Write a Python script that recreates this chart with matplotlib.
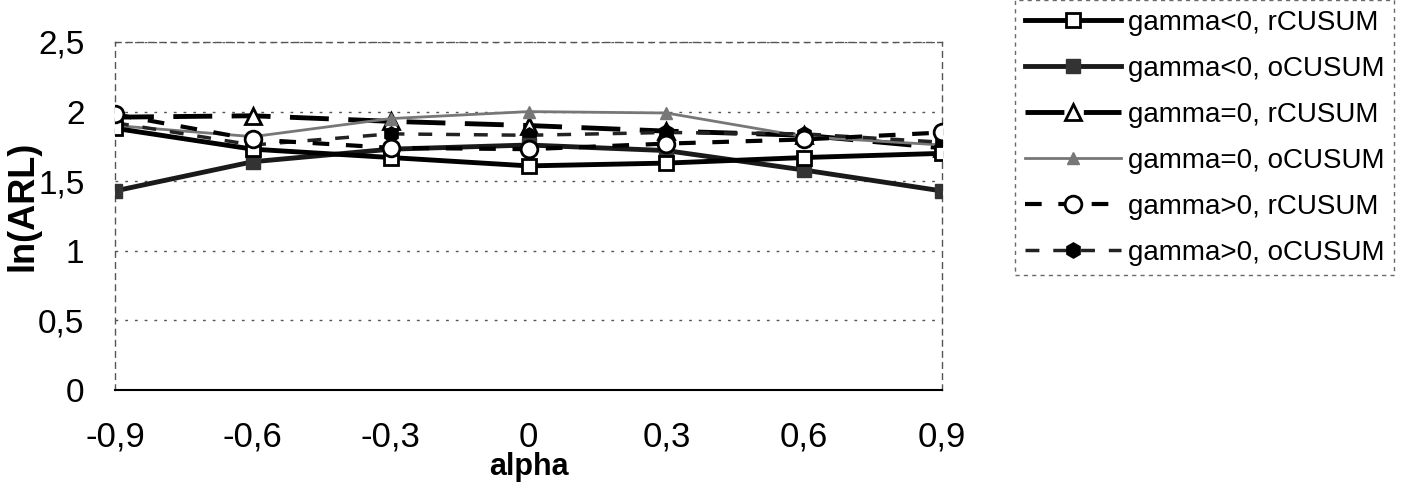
import numpy as np
import matplotlib
matplotlib.use("Agg")
import matplotlib.pyplot as plt

# alpha values on the category axis
alpha = [-0.9, -0.6, -0.3, 0.0, 0.3, 0.6, 0.9]
alpha_labels = ["-0,9", "-0,6", "-0,3", "0", "0,3", "0,6", "0,9"]

# ln(ARL)
neg_rcusum = [1.88, 1.73, 1.67, 1.61, 1.63, 1.67, 1.70]
neg_ocusum = [1.43, 1.64, 1.73, 1.76, 1.72, 1.58, 1.43]
zero_rcusum = [1.96, 1.97, 1.93, 1.90, 1.86, 1.83, 1.74]
zero_ocusum = [1.90, 1.82, 1.95, 2.00, 1.99, 1.82, 1.76]
pos_rcusum = [1.98, 1.80, 1.74, 1.73, 1.77, 1.80, 1.85]
pos_ocusum = [1.92, 1.76, 1.84, 1.83, 1.85, 1.84, 1.78]

y_ticks = [0, 0.5, 1, 1.5, 2, 2.5]
y_labels = ["0", "0,5", "1", "1,5", "2", "2,5"]

plt.rcParams["font.family"] = ["Liberation Sans", "DejaVu Sans"]

fig = plt.figure(figsize=(14.08, 4.82), dpi=100)
ax = fig.add_axes([115 / 1408, 1 - 390 / 482, (942 - 115) / 1408, (390 - 42) / 482])

ax.plot(alpha, neg_rcusum, color="black", lw=3.5, marker="s", ms=10,
        mfc="white", mec="black", mew=2, label="gamma<0, rCUSUM", zorder=5)
ax.plot(alpha, neg_ocusum, color="#1a1a1a", lw=3.5, marker="s", ms=10,
        mfc="#333333", mec="#333333", label="gamma<0, oCUSUM", zorder=4)
ax.plot(alpha, zero_rcusum, color="black", lw=3.5, dashes=(8, 4), marker="^",
        ms=12, mfc="white", mec="black", mew=2, label="gamma=0, rCUSUM", zorder=3)
ax.plot(alpha, zero_ocusum, color="#777777", lw=2, marker="^", ms=9,
        mfc="#777777", mec="#777777", label="gamma=0, oCUSUM", zorder=3)
ax.plot(alpha, pos_rcusum, color="black", lw=3, dashes=(4, 4), marker="o",
        ms=12, mfc="white", mec="black", mew=2, label="gamma>0, rCUSUM", zorder=6)
ax.plot(alpha, pos_ocusum, color="#222222", lw=2.5, dashes=(4, 4), marker="h",
        ms=11, mfc="black", mec="black", label="gamma>0, oCUSUM", zorder=3)

ax.set_xlim(-0.9, 0.9)
ax.set_ylim(0, 2.5)
ax.set_xticks(alpha)
ax.set_xticklabels(alpha_labels, fontsize=25)
ax.set_yticks(y_ticks)
ax.set_yticklabels(y_labels, fontsize=24)
ax.tick_params(axis="x", length=0, pad=22)
ax.tick_params(axis="y", length=0, pad=22)

ax.grid(axis="y", color="#555555", linestyle=(0, (2, 5)), lw=1)
ax.set_axisbelow(True)
for side in ["left", "right", "top"]:
    ax.spines[side].set_linestyle((0, (4, 4)))
    ax.spines[side].set_color("#555555")
    ax.spines[side].set_linewidth(1)
ax.spines["bottom"].set_color("black")
ax.spines["bottom"].set_linewidth(1.5)

ax.set_xlabel("alpha", fontsize=22, fontweight="bold", labelpad=-1)
ax.set_ylabel("ln(ARL)", fontsize=26, fontweight="bold")
ax.yaxis.set_label_coords((41 - 115) / 827, 0.53)

leg = ax.legend(loc="upper left", bbox_to_anchor=(1015 / 1408, 1.0),
                bbox_transform=fig.transFigure, fontsize=20, frameon=True,
                fancybox=False, handlelength=3.45, handletextpad=0.25,
                labelspacing=0.72, borderpad=0.35, borderaxespad=0)
leg.get_frame().set_edgecolor("#444444")
leg.get_frame().set_linewidth(1)
leg.get_frame().set_linestyle((0, (3, 3)))

fig.savefig("out.png", dpi=100)
